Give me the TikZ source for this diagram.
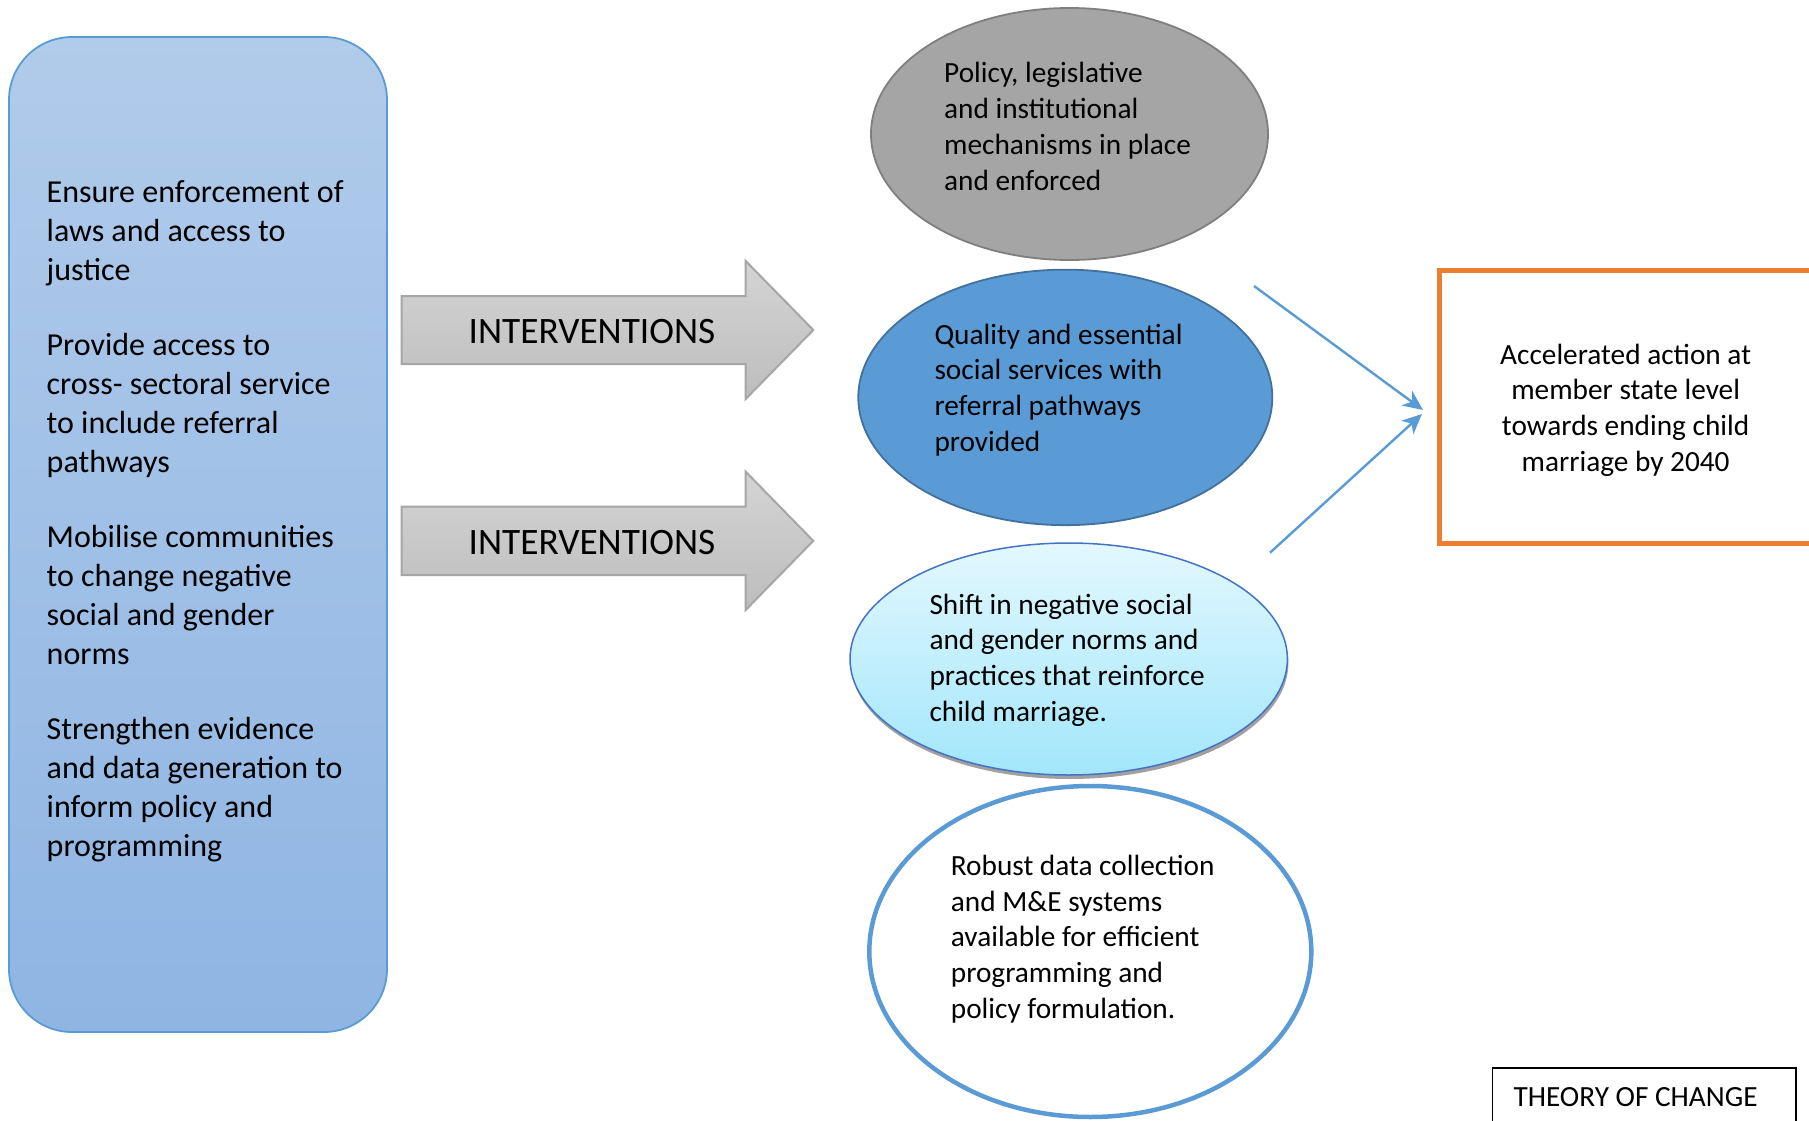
\documentclass[tikz,border=0pt]{standalone}
\usepackage{fontspec}
\setmainfont{Carlito}
\usetikzlibrary{shapes.geometric,arrows.meta}
\definecolor{lefttop}{HTML}{B1CBEA}
\definecolor{leftbot}{HTML}{8FB5E3}
\definecolor{leftborder}{HTML}{5B9BD5}
\definecolor{arrtop}{HTML}{D4D4D4}
\definecolor{arrbot}{HTML}{BDBDBD}
\definecolor{arrborder}{HTML}{A6A6A6}
\definecolor{grayfill}{HTML}{A5A5A5}
\definecolor{grayborder}{HTML}{7F7F7F}
\definecolor{bluefill}{HTML}{5B9BD5}
\definecolor{blueborder}{HTML}{41719C}
\definecolor{cyantop}{HTML}{E3F8FE}
\definecolor{cyanbot}{HTML}{A2E6FB}
\definecolor{cyanborder}{HTML}{4472C4}
\definecolor{shadowc}{HTML}{A0A0A0}
\definecolor{linkblue}{HTML}{5B9BD5}
\definecolor{goalorange}{HTML}{ED7D31}
\newcommand{\ltxt}{\fontsize{32}{39}\selectfont}
\newcommand{\etxt}{\fontsize{29.3}{35.7}\selectfont}
\newcommand{\atxt}{\fontsize{37.3}{44}\selectfont}
\begin{document}
\begin{tikzpicture}[x=1pt,y=-1pt,
  txt/.style={anchor=base west, inner sep=0pt, font=\etxt},
  oval/.style={ellipse, inner sep=0pt},
  bigarrow/.style={top color=arrtop, bottom color=arrbot, draw=arrborder, line width=2pt},
  link/.style={draw=linkblue, line width=2.4pt, -{Stealth[length=20pt,width=18pt,inset=6pt]}}]
\useasboundingbox (0,0) rectangle (1809,1121);
\fill[white] (0,0) rectangle (1809,1121);

% left box
\node[draw=leftborder, line width=1.8pt, rounded corners=63pt,
      minimum width=378pt, minimum height=995pt, inner sep=0pt,
      top color=lefttop, bottom color=leftbot] (leftbox) at (198,534.5) {};
\node[txt, font=\ltxt] (lefttext) at (46.5,202.5) {\parbox[t]{500pt}{\raggedright
Ensure enforcement of\\ laws and access to\\ justice\\[36pt]
Provide access to\\ cross- sectoral service\\ to include referral\\ pathways\\[36pt]
Mobilise communities\\ to change negative\\ social and gender\\ norms\\[36pt]
Strengthen evidence\\ and data generation to\\ inform policy and\\ programming}};

% big arrows
\shade[bigarrow] (401.7,296) -- (745.7,296) -- (745.7,261) -- (813.3,330) -- (745.7,399) -- (745.7,364) -- (401.7,364) -- cycle;
\node[anchor=base, inner sep=0pt, font=\atxt] (arr1text) at (592,343.5) {INTERVENTIONS};
\shade[bigarrow] (401.7,506.7) -- (745.7,506.7) -- (745.7,471.7) -- (813.3,540.85) -- (745.7,610) -- (745.7,575) -- (401.7,575) -- cycle;
\node[anchor=base, inner sep=0pt, font=\atxt] (arr2text) at (592,554.3) {INTERVENTIONS};

% ellipses
\node[oval, draw=grayborder, line width=1.8pt, fill=grayfill,
      minimum width=397pt, minimum height=252pt] (policy) at (1069.5,134) {};
\node[txt] (policytext) at (944,83) {\parbox[t]{400pt}{\raggedright
Policy, legislative\\ and institutional\\ mechanisms in place\\ and enforced}};

\node[oval, draw=blueborder, line width=1.8pt, fill=bluefill,
      minimum width=414pt, minimum height=255.5pt] (services) at (1065.3,397.4) {};
\node[txt] (servicestext) at (934.3,344) {\parbox[t]{400pt}{\raggedright
Quality and essential\\ social services with\\ referral pathways\\ provided}};

\fill[shadowc] (1069.7,663) ellipse [x radius=218.7, y radius=116];
\node[oval, draw=cyanborder, line width=1.5pt, top color=cyantop, bottom color=cyanbot,
      minimum width=437.4pt, minimum height=232pt] (norms) at (1068.7,659) {};
\node[txt] (normstext) at (929.3,614.2) {\parbox[t]{400pt}{\raggedright
Shift in negative social\\ and gender norms and\\ practices that reinforce\\ child marriage.}};

\node[oval, draw=linkblue, line width=4.5pt, fill=white,
      minimum width=442pt, minimum height=331pt] (data) at (1090.3,951.5) {};
\node[txt] (datatext) at (950.7,875.5) {\parbox[t]{400pt}{\raggedright
Robust data collection\\ and M\&E systems\\ available for efficient\\ programming and\\ policy formulation.}};

% goal box
\draw[goalorange, line width=5pt] (1439.5,270.5) rectangle (1840,543.5);
\node[anchor=base, inner sep=0pt, font=\etxt] (goaltext) at (1625.6,364) {\parbox[t]{400pt}{\centering
Accelerated action at\\ member state level\\ towards ending child\\ marriage by 2040}};

% connectors
\coordinate (s1) at (1254,286);
\coordinate (t1) at (1423,410);
\coordinate (s2) at (1270,552.7);
\coordinate (t2) at (1422,414);
\draw[link] (s1) -- (t1);
\draw[link] (s2) -- (t2);

% title box
\draw[black, line width=1.6pt] (1492.3,1140) -- (1492.3,1067.7) -- (1796,1067.7) -- (1796,1140);
\node[txt] (title) at (1513.3,1106.5) {THEORY OF CHANGE};
\end{tikzpicture}
\end{document}
